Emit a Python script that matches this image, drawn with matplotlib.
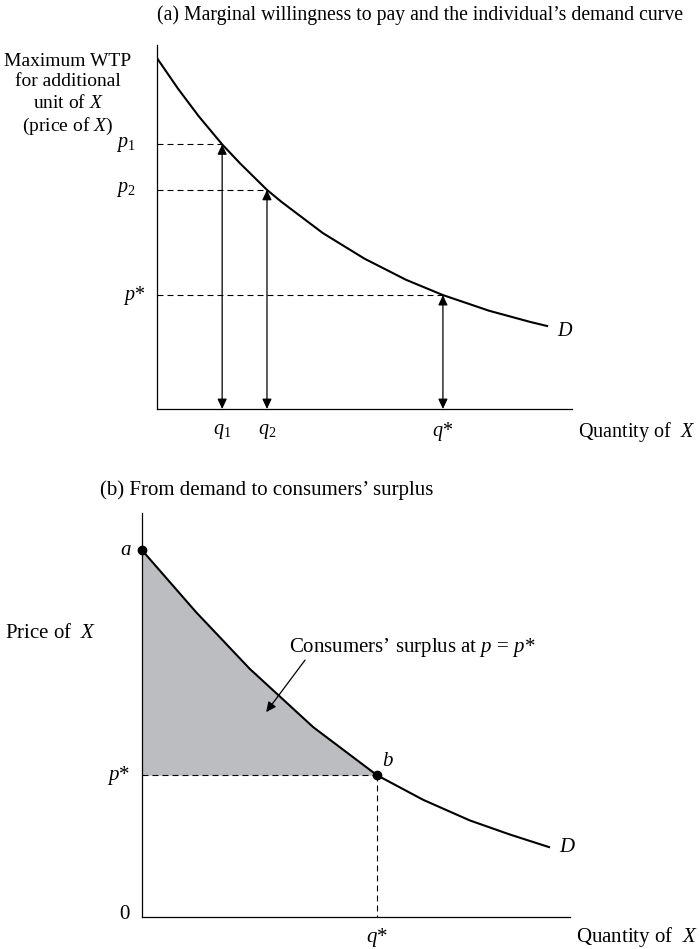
import matplotlib
matplotlib.use("Agg")
import matplotlib.pyplot as plt

plt.rcParams['font.family'] = ['Liberation Serif', 'DejaVu Serif']
plt.rcParams['mathtext.fontset'] = 'custom'
plt.rcParams['mathtext.rm'] = 'Liberation Serif'
plt.rcParams['mathtext.it'] = 'Liberation Serif:italic'
plt.rcParams['lines.scale_dashes'] = False

# panel (a): marginal WTP / demand curve
qty_a = [0, 0.5, 1, 1.57, 2, 2.65, 3, 4, 5, 6, 6.89, 8, 9, 9.4]
wtp_a = [9.64, 8.81, 8.05, 7.27, 6.75, 6.02, 5.69, 4.83, 4.13, 3.55, 3.13, 2.70, 2.39, 2.28]
q_marks = [1.57, 2.65, 6.89]
p_marks = [7.27, 6.02, 3.13]
q_labels = ['$q_1$', '$q_2$', '$q$*']
p_labels = ['$p_1$', '$p_2$', '$p$*']

# panel (b): demand and consumers' surplus
qty_b = [0, 1.26, 2.52, 4.00, 5.49, 6.57, 7.66, 8.60, 9.51]
price_b = [9.08, 7.55, 6.14, 4.70, 3.51, 2.90, 2.39, 2.04, 1.73]
q_star = 5.49
p_star = 3.51

FS_T = 14.2   # panel (a) title
FS_Y = 14     # panel (a) y label block
FS = 14.5     # panel (a) labels
FS_B = 15     # panel (b)
DASH = (4.3, 2.9)
W, H = 700, 949


def setup_axes(ax):
    ax.set_xlim(0, 10)
    ax.set_ylim(0, 10)
    for s in ['top', 'right']:
        ax.spines[s].set_visible(False)
    for s in ['left', 'bottom']:
        ax.spines[s].set_linewidth(0.9)
    ax.set_xticks([])
    ax.set_yticks([])
    ax.patch.set_alpha(0)


fig = plt.figure(figsize=(7, 9.49), dpi=100)

# ---------------- panel (a) ----------------
ax_a = fig.add_axes([157 / W, 1 - 409 / H, 415 / W, 364 / H])
setup_axes(ax_a)
ax_a.plot(qty_a, wtp_a, color='black', lw=1.5)

for q, p in zip(q_marks, p_marks):
    ax_a.plot([0, q], [p, p], color='black', lw=0.8, dashes=DASH)
    ax_a.annotate('', xy=(q, p), xytext=(q, 0),
                  arrowprops=dict(arrowstyle='<|-|>,head_length=0.6,head_width=0.28',
                                  mutation_scale=10, color='black', lw=0.9,
                                  shrinkA=0, shrinkB=0))

for q, lab in zip(q_marks, q_labels):
    ax_a.text(q, -0.63, lab, ha='center', va='center', fontsize=FS, clip_on=False)
for p, lab in zip(p_marks, p_labels):
    x = -0.27 if '*' in lab else -0.52
    ax_a.text(x, p, lab, ha='right', va='center', fontsize=FS, clip_on=False)

ax_a.text(10.14, -0.63, 'Quantity of  $X$', ha='left', va='center', fontsize=FS, clip_on=False)
ax_a.text(9.83, 2.14, '$D$', ha='center', va='center', fontsize=FS, clip_on=False)

fig.text(420 / W, 1 - 15 / H,
         '(a) Marginal willingness to pay and the individual\u2019s demand curve',
         ha='center', va='center', fontsize=FS_T)
fig.text(68 / W, 1 - 95 / H,
         'Maximum WTP\nfor additional\nunit of $X$\n(price of $X$)',
         ha='center', va='center', multialignment='center', fontsize=FS_Y, linespacing=1.25)

# ---------------- panel (b) ----------------
ax_b = fig.add_axes([142 / W, 1 - 917 / H, 428 / W, 404 / H])
setup_axes(ax_b)

i_star = qty_b.index(q_star)
ax_b.fill_between(qty_b[:i_star + 1], price_b[:i_star + 1], p_star,
                  color='#bcbdc1', lw=0)
ax_b.plot(qty_b, price_b, color='black', lw=1.5)
ax_b.plot([0, q_star], [p_star, p_star], color='black', lw=0.8, dashes=DASH)
ax_b.plot([q_star, q_star], [p_star, 0], color='black', lw=0.8, dashes=DASH)
ax_b.plot([qty_b[0], q_star], [price_b[0], p_star], 'o', color='black', ms=6, clip_on=False, zorder=5)

ax_b.text(-0.37, price_b[0], '$a$', ha='center', va='center', fontsize=FS_B, clip_on=False)
ax_b.text(5.75, 3.86, '$b$', ha='center', va='center', fontsize=FS_B, clip_on=False)
ax_b.text(-0.28, p_star, '$p$*', ha='right', va='center', fontsize=FS_B, clip_on=False)
ax_b.text(-0.42, 0.05, '0', ha='center', va='center', fontsize=FS_B, clip_on=False)
ax_b.text(q_star, -0.5, '$q$*', ha='center', va='center', fontsize=FS_B, clip_on=False)
ax_b.text(10.14, -0.5, 'Quantity of  $X$', ha='left', va='center', fontsize=FS_B, clip_on=False)
ax_b.text(9.93, 1.71, '$D$', ha='center', va='center', fontsize=FS_B, clip_on=False)

ax_b.text(3.43, 6.66, 'Consumers\u2019 surplus at $p$ = $p$*', ha='left', va='center',
          fontsize=FS_B, clip_on=False)
ax_b.annotate('', xy=(2.90, 5.07), xytext=(3.81, 6.36),
              arrowprops=dict(arrowstyle='-|>,head_length=0.6,head_width=0.28',
                              mutation_scale=10, color='black', lw=0.9,
                              shrinkA=0, shrinkB=0))

fig.text(100 / W, 1 - 490 / H, '(b) From demand to consumers\u2019 surplus',
         ha='left', va='center', fontsize=FS_B)
fig.text(5 / W, 1 - 634 / H, 'Price of  $X$', ha='left', va='center', fontsize=FS_B)

fig.savefig('out.png', dpi=100)
